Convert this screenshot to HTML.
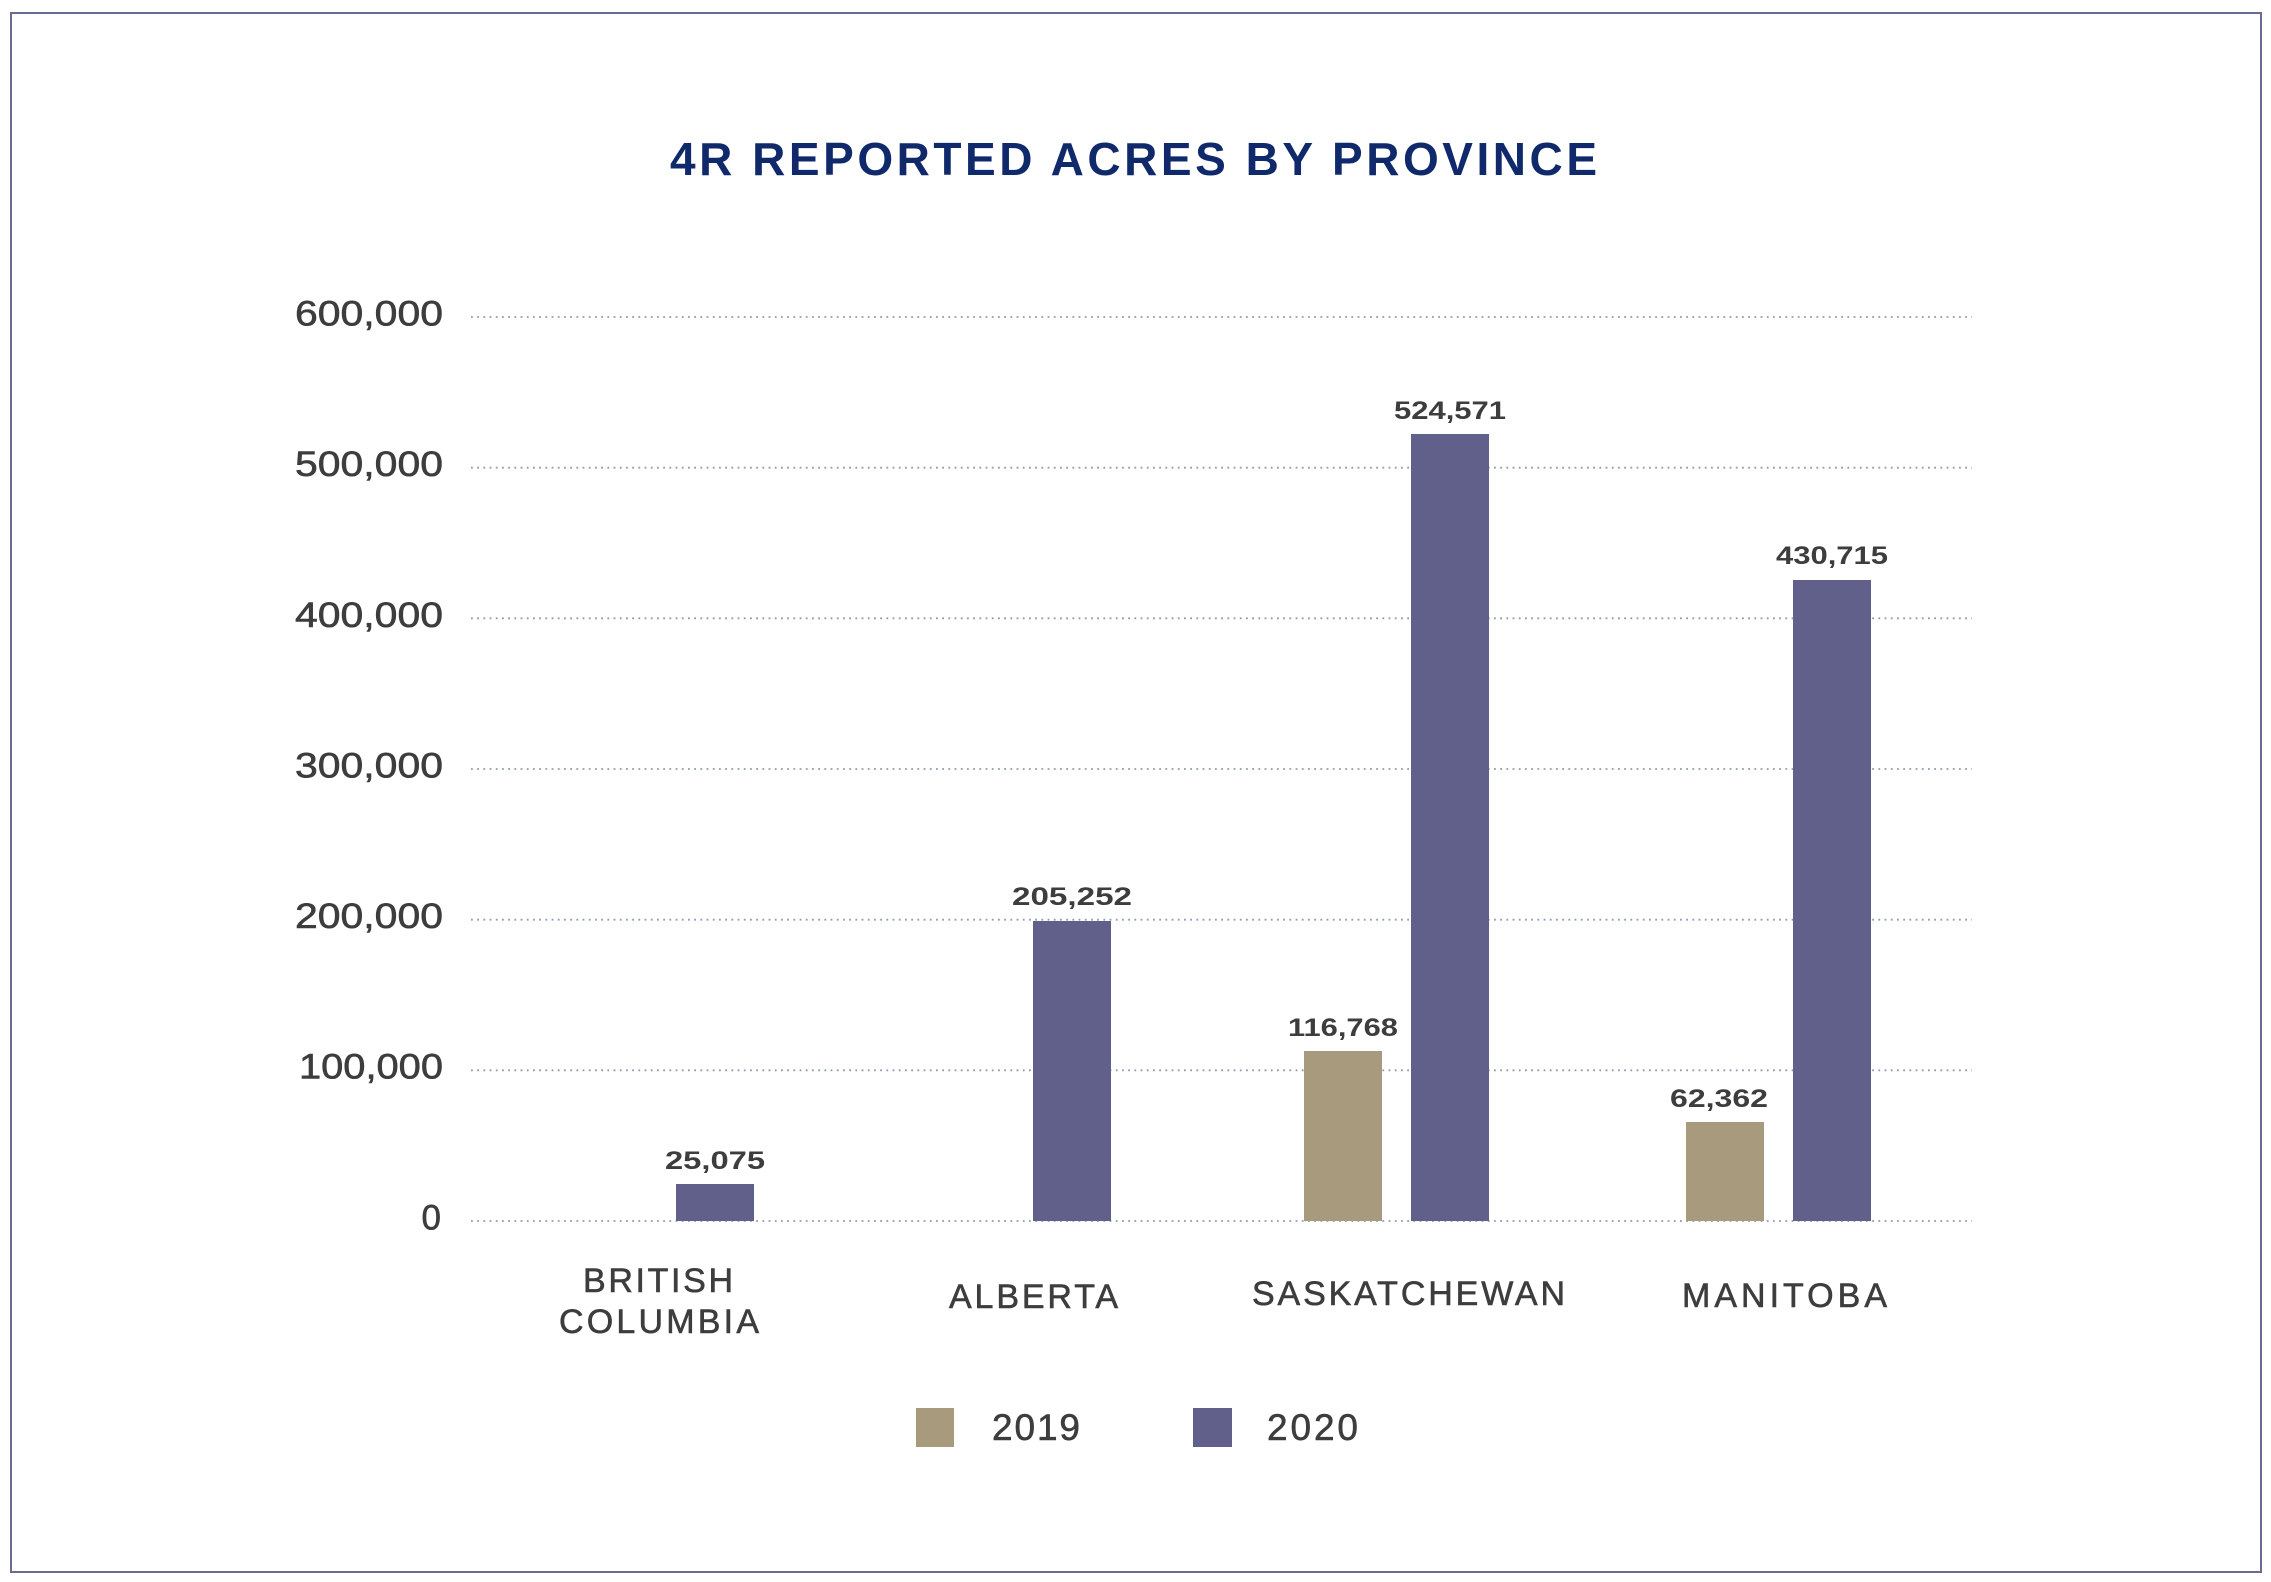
<!DOCTYPE html>
<html>
<head>
<meta charset="utf-8">
<style>
  html, body { margin:0; padding:0; background:#ffffff; }
  svg { display:block; }
  text { font-family: "Liberation Sans", "DejaVu Sans", sans-serif; }
</style>
</head>
<body>
<svg width="2271" height="1582" viewBox="0 0 2271 1582" xmlns="http://www.w3.org/2000/svg">
  <rect x="0" y="0" width="2271" height="1582" fill="#ffffff"/>
  <!-- border -->
  <rect x="11" y="13" width="2250" height="1559" fill="none" stroke="#6b6b92" stroke-width="2"/>

  <!-- title -->
  <text x="670" y="175" font-size="46" font-weight="bold" fill="#10296b" textLength="927" lengthAdjust="spacing">4R REPORTED ACRES BY PROVINCE</text>

  <!-- gridlines -->
  <g stroke="#8e9bb0" stroke-width="1.8" stroke-dasharray="1.8 4.4">
    <line x1="471" y1="317" x2="1972" y2="317"/>
    <line x1="471" y1="467.7" x2="1972" y2="467.7"/>
    <line x1="471" y1="618.3" x2="1972" y2="618.3"/>
    <line x1="471" y1="769" x2="1972" y2="769"/>
    <line x1="471" y1="919.7" x2="1972" y2="919.7"/>
    <line x1="471" y1="1070.3" x2="1972" y2="1070.3"/>
    <line x1="471" y1="1221" x2="1972" y2="1221"/>
  </g>

  <!-- y labels -->
  <g font-size="35" fill="#3d3d3d" stroke="#3d3d3d" stroke-width="0.6" text-anchor="end">
    <text x="443" y="325.5" textLength="148" lengthAdjust="spacingAndGlyphs">600,000</text>
    <text x="443" y="476" textLength="148" lengthAdjust="spacingAndGlyphs">500,000</text>
    <text x="443" y="627" textLength="148" lengthAdjust="spacingAndGlyphs">400,000</text>
    <text x="443" y="777.5" textLength="148" lengthAdjust="spacingAndGlyphs">300,000</text>
    <text x="443" y="928" textLength="148" lengthAdjust="spacingAndGlyphs">200,000</text>
    <text x="443" y="1078.5" textLength="144" lengthAdjust="spacingAndGlyphs">100,000</text>
    <text x="441" y="1229.5">0</text>
  </g>

  <!-- bars -->
  <g fill="#60608a">
    <rect x="676" y="1184" width="78" height="37"/>
    <rect x="1033" y="921" width="78" height="300"/>
    <rect x="1411" y="434" width="78" height="787"/>
    <rect x="1793" y="580" width="78" height="641"/>
  </g>
  <g fill="#a89a7c">
    <rect x="1304" y="1051" width="78" height="170"/>
    <rect x="1686" y="1122" width="78" height="99"/>
  </g>

  <!-- value labels -->
  <g font-size="25" font-weight="bold" fill="#3d3d3d" text-anchor="middle">
    <text x="715" y="1169" textLength="100" lengthAdjust="spacingAndGlyphs">25,075</text>
    <text x="1072" y="905" textLength="120" lengthAdjust="spacingAndGlyphs">205,252</text>
    <text x="1343" y="1036" textLength="110" lengthAdjust="spacingAndGlyphs">116,768</text>
    <text x="1450" y="419" textLength="112" lengthAdjust="spacingAndGlyphs">524,571</text>
    <text x="1719" y="1107" textLength="98" lengthAdjust="spacingAndGlyphs">62,362</text>
    <text x="1832" y="564" textLength="112" lengthAdjust="spacingAndGlyphs">430,715</text>
  </g>

  <!-- x labels -->
  <g font-size="34" fill="#3d3d3d" stroke="#3d3d3d" stroke-width="0.6" text-anchor="middle">
    <text x="658" y="1292" textLength="150" lengthAdjust="spacing">BRITISH</text>
    <text x="659" y="1333" textLength="200" lengthAdjust="spacing">COLUMBIA</text>
    <text x="1033.5" y="1308" textLength="169" lengthAdjust="spacing">ALBERTA</text>
    <text x="1408.5" y="1305" textLength="313" lengthAdjust="spacing">SASKATCHEWAN</text>
    <text x="1784.5" y="1307" textLength="205" lengthAdjust="spacing">MANITOBA</text>
  </g>

  <!-- legend -->
  <rect x="916" y="1408" width="38" height="39" fill="#a89a7c"/>
  <text x="992" y="1440" font-size="37" fill="#3d3d3d" stroke="#3d3d3d" stroke-width="0.6" textLength="88" lengthAdjust="spacing">2019</text>
  <rect x="1193" y="1408" width="39" height="39" fill="#60608a"/>
  <text x="1267" y="1440" font-size="37" fill="#3d3d3d" stroke="#3d3d3d" stroke-width="0.6" textLength="91" lengthAdjust="spacing">2020</text>
</svg>
</body>
</html>
